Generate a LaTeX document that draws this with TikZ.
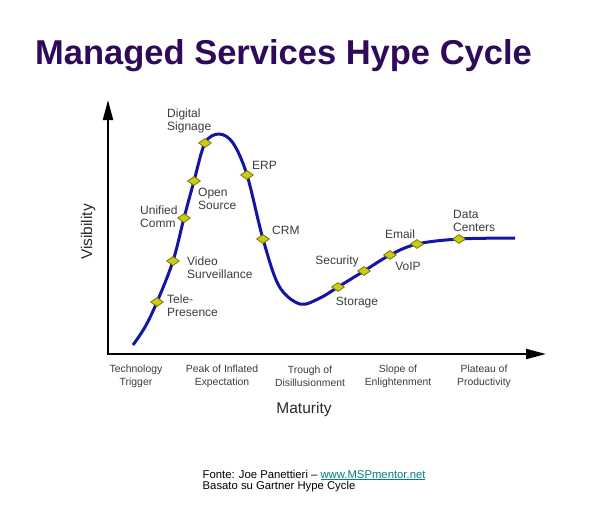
\documentclass[tikz,border=0pt]{standalone}
\usepackage{fontspec}
\setmainfont{Liberation Sans}
\usetikzlibrary{shapes.geometric,arrows.meta}
\definecolor{titlec}{RGB}{48,10,90}
\definecolor{curvec}{RGB}{20,20,165}
\definecolor{gemfill}{RGB}{204,204,20}
\definecolor{gemline}{RGB}{120,120,0}
\definecolor{lbl}{RGB}{60,60,60}
\definecolor{linkc}{RGB}{0,128,128}
\begin{document}
\begin{tikzpicture}[x=1pt,y=-1pt,
  gem/.style={diamond, draw=gemline, fill=gemfill, line width=0.8pt, inner sep=0pt, minimum width=13pt, minimum height=9pt},
  lab/.style={text=lbl, font=\fontsize{12}{13}\selectfont, inner sep=0pt, align=left},
  phase/.style={text=lbl, font=\fontsize{10.4}{13}\selectfont, inner sep=0pt, align=center},
  axl/.style={text=lbl!70!black, font=\fontsize{15.5}{18}\selectfont, inner sep=0pt},
  axisline/.style={line width=2pt, black, -{Triangle[length=20pt,width=10pt]}},
  curve/.style={line width=3pt, curvec},
  foot/.style={anchor=base west, inner sep=0pt, font=\fontsize{11.3}{12}\selectfont}]
\useasboundingbox (0,0) rectangle (601,517);
\fill[white] (0,0) rectangle (601,517);

% title
\node[anchor=base west, text=titlec, font=\bfseries\fontsize{34.5}{40}\selectfont, inner sep=0pt] (title) at (35,64) {Managed Services Hype Cycle};

% axes
\coordinate (origin) at (108,354);
\coordinate (ytip) at (108,100);
\coordinate (xtip) at (546,354);
\draw[axisline] (origin) -- (ytip);
\draw[axisline] ([xshift=-1pt]origin) -- (xtip);

% curve points
\coordinate (start) at (133,345);
\coordinate (s1) at (145,327);
\coordinate (tele) at (157,302);
\coordinate (video) at (173,261);
\coordinate (unified) at (184,218);
\coordinate (open) at (194,181);
\coordinate (digital) at (205,143);
\coordinate (peak) at (219,134);
\coordinate (pk2) at (233,143);
\coordinate (erp) at (247,175);
\coordinate (crm) at (263,239);
\coordinate (t1) at (279,286);
\coordinate (trough) at (300,304);
\coordinate (t2) at (320,298);
\coordinate (storage) at (338,287);
\coordinate (security) at (364,271);
\coordinate (voip) at (390,255);
\coordinate (email) at (417,244);
\coordinate (datac) at (459,239);
\coordinate (finish) at (515,238);

\draw[curve] plot[smooth, tension=0.55] coordinates {(start) (s1) (tele) (video) (unified) (open) (digital) (peak) (pk2) (erp) (crm) (t1) (trough) (t2) (storage) (security) (voip) (email) (datac) (finish)};

% diamonds
\foreach \p in {tele,video,unified,open,digital,erp,crm,storage,security,voip,email,datac}
  \node[gem] (g\p) at (\p) {};

% labels
\node[lab, anchor=west] (ldigital) at (167,121) {Digital\\Signage};
\node[lab, anchor=west] (lerp) at (252,165) {ERP};
\node[lab, anchor=west] (lopen) at (198,199) {Open\\Source};
\node[lab, anchor=west] (lunified) at (140,217) {Unified\\Comm};
\node[lab, anchor=west] (lcrm) at (272,230) {CRM};
\node[lab, anchor=west] (lvideo) at (187,268) {Video\\Surveillance};
\node[lab, anchor=west] (ltele) at (167,306) {Tele-\\Presence};
\node[lab] (lsecurity) at (337,261) {Security};
\node[lab] (lstorage) at (357,303) {Storage};
\node[lab] (lemail) at (400,234) {Email};
\node[lab] (lvoip) at (408,266) {VoIP};
\node[lab, anchor=west] (ldatac) at (453,221) {Data\\Centers};

% phases
\node[phase] (ph1) at (136,376.5) {Technology\\Trigger};
\node[phase] (ph2) at (222,376.5) {Peak of Inflated\\Expectation};
\node[phase] (ph3) at (310,376.5) {Trough of\\Disillusionment};
\node[phase] (ph4) at (398,376.5) {Slope of\\Enlightenment};
\node[phase] (ph5) at (484,376.5) {Plateau of\\Productivity};

% axis labels
\node[axl] (maturity) at (304,409) {Maturity};
\node[axl, rotate=90] (visibility) at (88,232) {Visibility};

% footer
\node[foot] (foot1) at (202.5,478) {Fonte: Joe Panettieri -- \textcolor{linkc}{\underline{www.MSPmentor.net}}};
\node[foot] (foot2) at (202.5,489.5) {Basato su Gartner Hype Cycle};
\end{tikzpicture}
\end{document}
